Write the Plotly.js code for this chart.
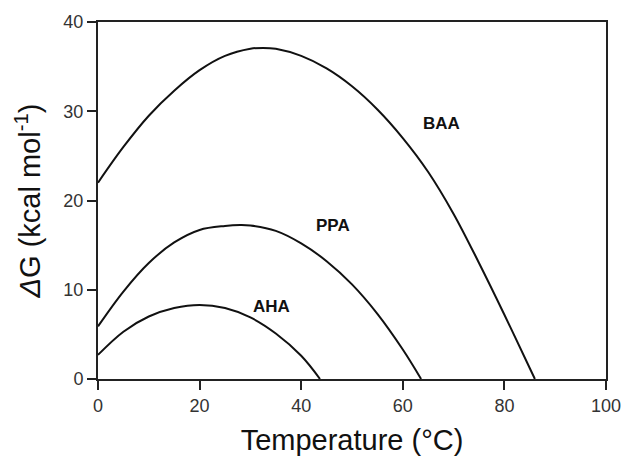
<!DOCTYPE html>
<html>
<head>
<meta charset="utf-8">
<script src="https://cdn.plot.ly/plotly-3.0.1.min.js"></script>
<style>html,body{margin:0;padding:0;background:#fff;}#chart{width:626px;height:463px;}</style>
</head>
<body>
<div id="chart"></div>
<script>
// Temperature (°C) and ΔG (kcal/mol)
const baaT = [0, 5, 10, 15, 20, 25, 30, 32.5, 35, 40, 45, 50, 55, 60, 65, 70, 75, 80, 85, 86];
const baaG = [22.0, 26.0, 29.5, 32.3, 34.6, 36.2, 37.0, 37.1, 37.0, 36.2, 34.8, 32.8, 30.2, 27.0, 23.2, 18.5, 13.0, 7.2, 1.2, 0];
const ppaT = [0, 5, 10, 15, 20, 25, 28, 30, 35, 40, 45, 50, 55, 60, 63.6];
const ppaG = [5.9, 9.8, 13.0, 15.3, 16.7, 17.15, 17.25, 17.2, 16.6, 15.2, 13.2, 10.6, 7.3, 3.3, 0];
const ahaT = [0, 5, 10, 15, 20, 25, 30, 35, 40, 43.7];
const ahaG = [2.7, 5.3, 7.0, 7.95, 8.3, 7.95, 6.9, 5.1, 2.6, 0];
const labels = ["BAA", "PPA", "AHA"];
const labelT = [67.6, 46.3, 34.1];
const labelG = [28.6, 17.25, 8.1];
const xTicks = [0, 20, 40, 60, 80, 100];
const yTicks = [0, 10, 20, 30, 40];

const lineStyle = {color: '#111', width: 2, shape: 'spline', smoothing: 1};
const traces = [
  {x: baaT, y: baaG, mode: 'lines', line: lineStyle, name: labels[0]},
  {x: ppaT, y: ppaG, mode: 'lines', line: lineStyle, name: labels[1]},
  {x: ahaT, y: ahaG, mode: 'lines', line: lineStyle, name: labels[2]}
];
const font = 'Arial, Liberation Sans, sans-serif';
const annotations = labels.map((t, i) => ({
  x: labelT[i], y: labelG[i], xref: 'x', yref: 'y', text: '<b>' + t + '</b>',
  showarrow: false, font: {family: font, size: 17, color: '#111'}
}));
const layout = {
  width: 626, height: 463,
  margin: {l: 98, r: 20, t: 22, b: 84},
  paper_bgcolor: '#fff', plot_bgcolor: '#fff',
  showlegend: false,
  annotations: annotations,
  xaxis: {
    range: [0, 100], tickvals: xTicks, ticktext: xTicks.map(String),
    showgrid: false, zeroline: false, showline: true, mirror: true,
    linecolor: '#222', linewidth: 2, ticks: 'outside', ticklen: 9, tickwidth: 2, tickcolor: '#222',
    tickfont: {family: font, size: 18, color: '#333'},
    title: {text: 'Temperature (°C)', font: {family: font, size: 29, color: '#111'}, standoff: 15}
  },
  yaxis: {
    range: [0, 40], tickvals: yTicks, ticktext: yTicks.map(String),
    showgrid: false, zeroline: false, showline: true, mirror: true,
    linecolor: '#222', linewidth: 2, ticks: 'outside', ticklen: 9, tickwidth: 2, tickcolor: '#222',
    tickfont: {family: font, size: 18, color: '#333'},
    title: {text: '<i>Δ</i>G (kcal mol<sup>-1</sup>)', font: {family: font, size: 29, color: '#111'}, standoff: 14}
  }
};
Plotly.newPlot('chart', traces, layout, {staticPlot: true, displayModeBar: false});
</script>
</body>
</html>
